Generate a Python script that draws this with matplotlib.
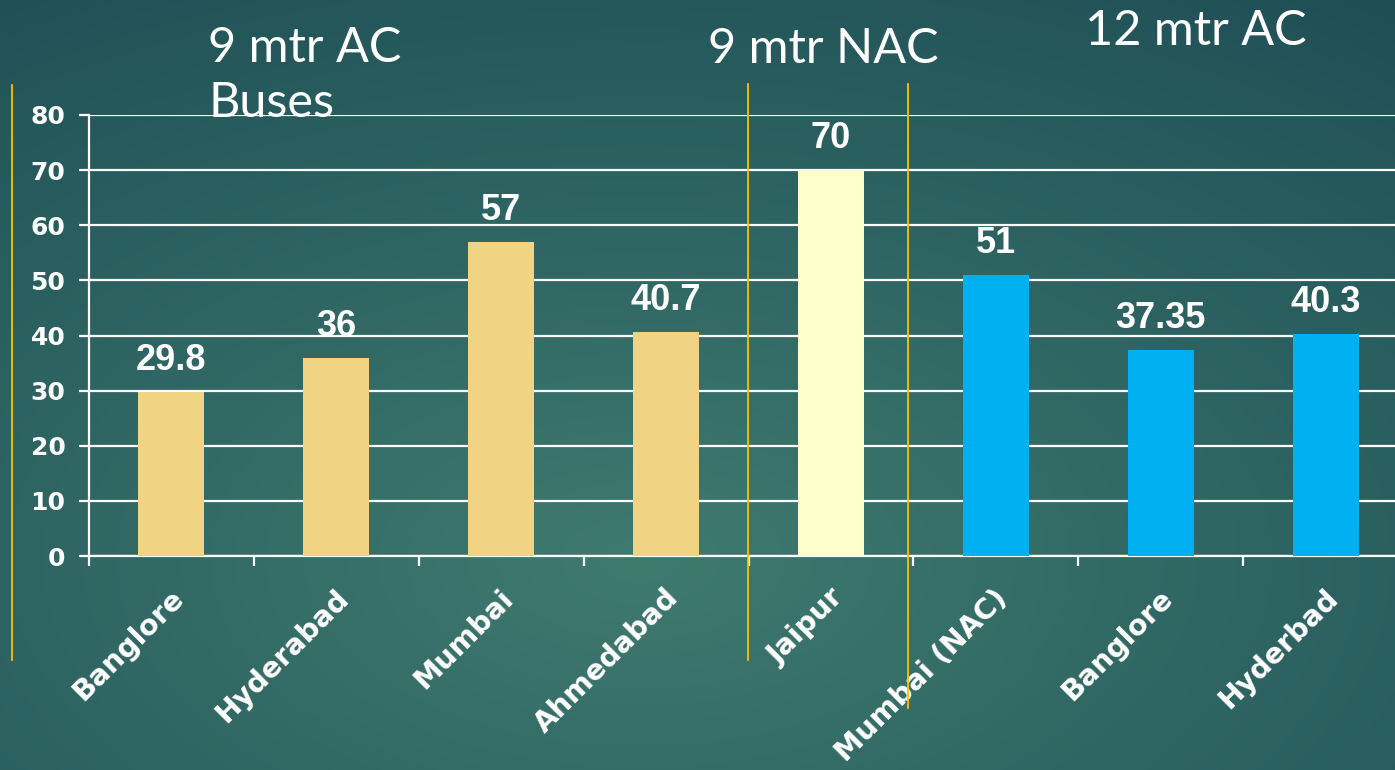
import numpy as np
import matplotlib
matplotlib.use("Agg")
import matplotlib.pyplot as plt
from matplotlib.colors import LinearSegmentedColormap
from matplotlib.lines import Line2D
import matplotlib.transforms as mtransforms

# data
cities = ["Banglore", "Hyderabad", "Mumbai", "Ahmedabad", "Jaipur",
          "Mumbai (NAC)", "Banglore", "Hyderbad"]
values = [29.8, 36, 57, 40.7, 70, 51, 37.35, 40.3]
value_labels = ["29.8", "36", "57", "40.7", "70", "51", "37.35", "40.3"]
groups = ["9mAC", "9mAC", "9mAC", "9mAC", "9mNAC", "12mAC", "12mAC", "12mAC"]
group_colors = {"9mAC": "#F0D483", "9mNAC": "#FFFFCC", "12mAC": "#00B0F0"}

W, H = 1395, 770
fig = plt.figure(figsize=(W / 100, H / 100), dpi=100)

# background: teal radial gradient
bg = fig.add_axes([0, 0, 1, 1])
yy, xx = np.mgrid[0:H, 0:W]
r = np.sqrt(((xx - 640) / W) ** 2 + ((yy - 560) / H) ** 2)
r = np.clip(r / r.max(), 0, 1)
cmap_bg = LinearSegmentedColormap.from_list("bg", ["#3F7A6F", "#2E6462", "#1F4F56"])
bg.imshow(r, cmap=cmap_bg, aspect="auto", extent=[0, 1, 0, 1], origin="upper")
bg.axis("off")

ax = fig.add_axes([89 / W, 214 / H, 1319 / W, 441 / H])
ax.patch.set_alpha(0)

x = np.arange(len(values))
cols = [group_colors[g] for g in groups]
bars = ax.bar(x, values, width=0.4, color=cols, zorder=3)

for b, lab in zip(bars, value_labels):
    ax.annotate(lab, (b.get_x() + b.get_width() / 2, b.get_height()),
                xytext=(0, 10), textcoords="offset points", ha="center", va="bottom",
                color="white", fontsize=26, fontweight="bold", family="Liberation Sans")

ax.set_xlim(-0.5, len(values) - 0.5)
ax.set_ylim(0, 80)
ax.set_yticks(range(0, 81, 10))
ax.set_yticklabels([str(v) for v in range(0, 81, 10)], fontsize=18,
                   fontweight="bold", family="DejaVu Sans", color="white")
ax.grid(axis="y", color="white", linewidth=1.6, zorder=0)
ax.set_axisbelow(True)

for s in ["top", "right"]:
    ax.spines[s].set_visible(False)
for s in ["left", "bottom"]:
    ax.spines[s].set_color("white")
    ax.spines[s].set_linewidth(1.6)

ax.tick_params(axis="y", colors="white", length=7, width=1.6, pad=10)

# category boundary marks below the axis, labels at centres
ax.set_xticks(x)
ax.set_xticks(np.arange(-0.5, len(values), 1), minor=True)
ax.tick_params(axis="x", which="major", length=0, pad=20)
ax.tick_params(axis="x", which="minor", length=7, width=1.6, color="white")
ax.set_xticklabels(cities, rotation=45, ha="right", rotation_mode="anchor",
                   color="white", fontsize=20.5, fontweight="bold", family="DejaVu Sans")
shift = mtransforms.ScaledTranslation(-2 / 100, 0, fig.dpi_scale_trans)
for t in ax.get_xticklabels():
    t.set_transform(t.get_transform() + shift)

# group headings
title_kw = dict(color="white", fontsize=35, family="Lato", fontweight="normal",
                transform=fig.transFigure, va="baseline", ha="left")
fig.text(208 / W, 1 - 62 / H, "9 mtr AC", **title_kw)
fig.text(208 / W, 1 - 117 / H, "Buses", **title_kw)
fig.text(708 / W, 1 - 63 / H, "9 mtr NAC", **title_kw)
fig.text(1085 / W, 1 - 45 / H, "12 mtr AC", **title_kw)

# yellow separator lines
for xp, y0, y1 in [(12, 85, 660), (748, 84, 660), (908, 84, 708)]:
    fig.add_artist(Line2D([xp / W, xp / W], [1 - y0 / H, 1 - y1 / H],
                          color="#FFC000", linewidth=1.3, transform=fig.transFigure))

fig.savefig("out.png", dpi=100)
